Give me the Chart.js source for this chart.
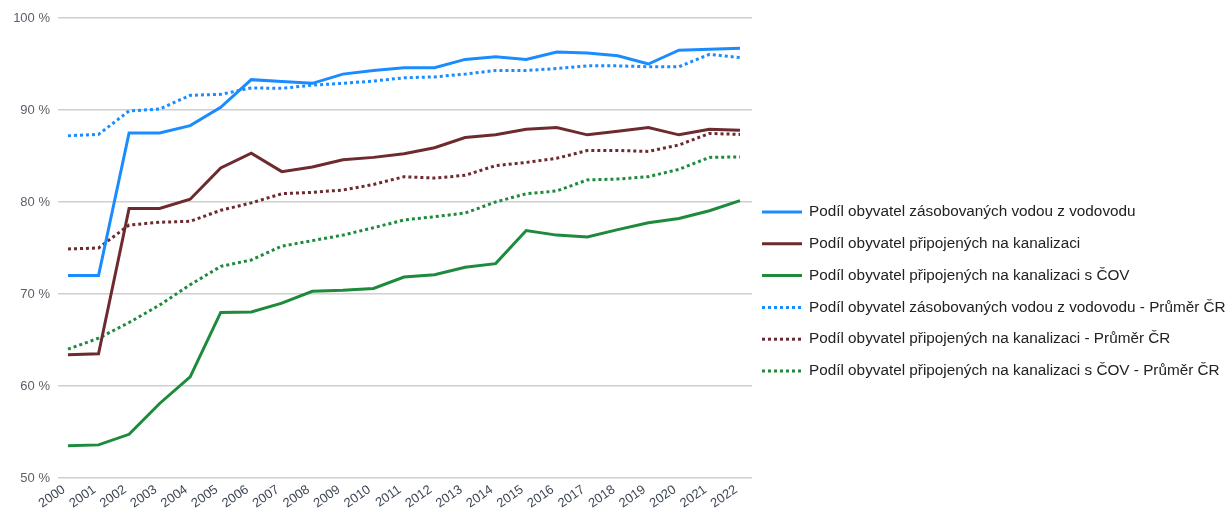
<!DOCTYPE html>
<html lang="cs">
<head>
<meta charset="utf-8">
<script src="https://cdn.jsdelivr.net/npm/chart.js@4"></script>
<style>
  html, body { margin: 0; padding: 0; background: #fff; }
  #wrap { width: 1227px; height: 508px; position: relative; }
</style>
</head>
<body>
<div id="wrap"><canvas id="vodaChart"></canvas></div>
<script>
// roky
const years = [2000, 2001, 2002, 2003, 2004, 2005, 2006, 2007, 2008, 2009, 2010, 2011,
  2012, 2013, 2014, 2015, 2016, 2017, 2018, 2019, 2020, 2021, 2022];

// kraj
const vodovod = [72.0, 72.0, 87.5, 87.5, 88.3, 90.3, 93.3, 93.1, 92.9, 93.9, 94.3, 94.6,
  94.6, 95.5, 95.8, 95.5, 96.3, 96.2, 95.9, 95.0, 96.5, 96.6, 96.7];
const kanalizace = [63.4, 63.5, 79.3, 79.3, 80.3, 83.7, 85.3, 83.3, 83.8, 84.6, 84.85, 85.25,
  85.9, 87.0, 87.3, 87.9, 88.1, 87.3, 87.7, 88.1, 87.3, 87.9, 87.8];
const kanalizaceCov = [53.5, 53.6, 54.75, 58.1, 61.0, 68.0, 68.05, 69.0, 70.3, 70.4, 70.6, 71.85,
  72.1, 72.9, 73.3, 76.9, 76.4, 76.2, 77.0, 77.75, 78.2, 79.05, 80.15];

// průměr ČR
const vodovodCR = [87.2, 87.35, 89.9, 90.1, 91.6, 91.7, 92.4, 92.35, 92.7, 92.9, 93.15, 93.5,
  93.6, 93.9, 94.3, 94.3, 94.5, 94.8, 94.8, 94.7, 94.7, 96.05, 95.7];
const kanalizaceCR = [74.9, 75.0, 77.5, 77.8, 77.9, 79.1, 79.9, 80.9, 81.05, 81.3, 81.9, 82.75,
  82.6, 82.9, 83.95, 84.3, 84.75, 85.6, 85.6, 85.5, 86.2, 87.45, 87.35];
const kanalizaceCovCR = [64.0, 65.2, 66.9, 68.8, 71.0, 73.0, 73.7, 75.2, 75.8, 76.4, 77.2, 78.05,
  78.4, 78.8, 80.0, 80.9, 81.2, 82.4, 82.5, 82.75, 83.55, 84.85, 84.9];

const yTicks = [50, 60, 70, 80, 90, 100];

const BLUE = '#1a8cff';
const BROWN = '#6e2b2f';
const GREEN = '#1d8a3c';
const FONT = '"Liberation Sans", Arial, sans-serif';

function series(label, values, color, dotted) {
  return {
    label: label,
    data: years.map((y, i) => ({ x: y, y: values[i] })),
    borderColor: color,
    backgroundColor: color,
    borderWidth: 3,
    borderDash: dotted ? [3, 3] : [],
    pointRadius: 0,
    tension: 0,
    fill: false
  };
}

// legenda vpravo od grafu: čára 40 px + popisek
const sideLegend = {
  id: 'sideLegend',
  afterDraw(chart) {
    const c = chart.ctx;
    const x0 = chart.chartArea.right + 10;
    c.save();
    c.font = '15.3px ' + FONT;
    c.textBaseline = 'middle';
    chart.data.datasets.forEach((ds, i) => {
      const y = 212 + i * 31.8;
      c.strokeStyle = ds.borderColor;
      c.lineWidth = 3;
      c.setLineDash(ds.borderDash);
      c.beginPath();
      c.moveTo(x0, y);
      c.lineTo(x0 + 40, y);
      c.stroke();
      c.setLineDash([]);
      c.fillStyle = '#222';
      c.fillText(ds.label, x0 + 47, y);
    });
    c.restore();
  }
};

const ctx = document.getElementById('vodaChart').getContext('2d');
const vodaChart = new Chart(ctx, {
  type: 'line',
  data: {
    datasets: [
      series('Podíl obyvatel zásobovaných vodou z vodovodu', vodovod, BLUE, false),
      series('Podíl obyvatel připojených na kanalizaci', kanalizace, BROWN, false),
      series('Podíl obyvatel připojených na kanalizaci s ČOV', kanalizaceCov, GREEN, false),
      series('Podíl obyvatel zásobovaných vodou z vodovodu - Průměr ČR', vodovodCR, BLUE, true),
      series('Podíl obyvatel připojených na kanalizaci - Průměr ČR', kanalizaceCR, BROWN, true),
      series('Podíl obyvatel připojených na kanalizaci s ČOV - Průměr ČR', kanalizaceCovCR, GREEN, true)
    ]
  },
  plugins: [sideLegend],
  options: {
    responsive: true,
    maintainAspectRatio: false,
    animation: false,
    layout: { padding: { top: 18, right: 475, bottom: 0, left: 0 } },
    scales: {
      x: {
        type: 'linear',
        min: 1999.673,
        max: 2022.393,
        afterBuildTicks: (scale) => { scale.ticks = years.map(v => ({ value: v })); },
        afterFit: (scale) => { scale.height = 30; },
        grid: { display: false },
        border: { display: false },
        ticks: {
          autoSkip: false,
          minRotation: 35,
          maxRotation: 35,
          padding: -4,
          labelOffset: -4,
          color: '#3f4756',
          font: { family: FONT, size: 13 },
          callback: (v) => String(v)
        }
      },
      y: {
        min: 50,
        max: 100,
        afterBuildTicks: (scale) => { scale.ticks = yTicks.map(v => ({ value: v })); },
        afterFit: (scale) => { scale.width = 58; },
        grid: { color: '#cfcfcf', lineWidth: 1.5, drawTicks: false },
        border: { display: false },
        ticks: {
          padding: 8,
          color: '#5a5f68',
          font: { family: FONT, size: 13 },
          callback: (v) => v + ' %'
        }
      }
    },
    plugins: {
      legend: { display: false },
      tooltip: { enabled: false }
    }
  }
});
</script>
</body>
</html>
